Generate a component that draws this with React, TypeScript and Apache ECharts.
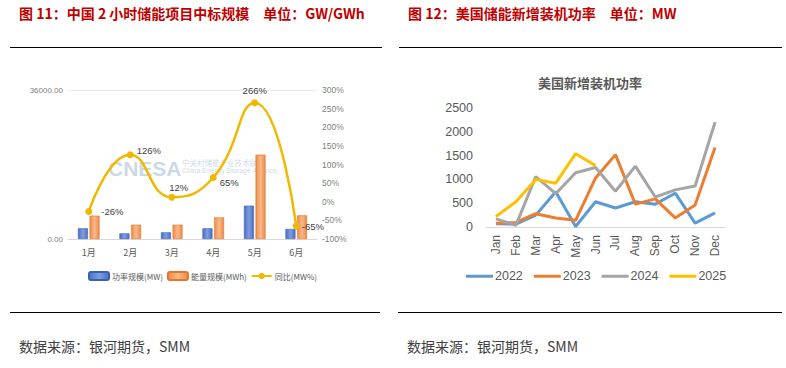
import React, { useEffect, useRef } from "react";
import * as echarts from "echarts";

// Left chart (图 11)
const months = ["1月", "2月", "3月", "4月", "5月", "6月"];
const powerMW = [2580, 1370, 1610, 2580, 8050, 2420];
const energyMWh = [5640, 3460, 3460, 5230, 20370, 5720];
const yoyPct = [-26, 126, 12, 65, 266, -65];

// Right chart (图 12)
const monthsEn = ["Jan", "Feb", "Mar", "Apr", "May", "Jun", "Jul", "Aug", "Sep", "Oct", "Nov", "Dec"];
const us2022 = [70, 60, 250, 740, 10, 530, 400, 530, 480, 710, 80, 295];
const us2023 = [80, 95, 280, 190, 140, 1030, 1520, 480, 590, 190, 460, 1670];
const us2024 = [170, 35, 1060, 700, 1140, 1250, 750, 1280, 630, 780, 860, 2200];
const us2025 = [220, 530, 1000, 920, 1540, 1290];

const CJK = '"Noto Sans CJK SC", "Noto Sans", sans-serif';
const NUM = '"Liberation Sans Narrow", "Liberation Sans", "Noto Sans CJK SC", sans-serif';

export default function App() {
  const ref = useRef<HTMLDivElement>(null);
  useEffect(() => {
    if (!ref.current) return;
    const chart = echarts.init(ref.current, null, { renderer: "svg" });

    const labelCfg: any[] = [
      { position: "right", distance: 9, offset: [0, 0] },
      { position: "right", distance: 3, offset: [0, -4] },
      { position: "top", distance: 2, offset: [7, 0] },
      { position: "right", distance: 3, offset: [0, 5] },
      { position: "top", distance: 4, offset: [0, 0] },
      { position: "right", distance: 2, offset: [0, 1] },
    ];

    const barGrad = (c1: string, c2: string) =>
      new echarts.graphic.LinearGradient(0, 0, 1, 0, [
        { offset: 0, color: c1 },
        { offset: 0.5, color: c2 },
        { offset: 1, color: c1 },
      ]);

    const option: any = {
      animation: false,
      backgroundColor: "#ffffff",
      textStyle: { fontFamily: CJK },
      grid: [
        { left: 68, right: 469, top: 90, bottom: 129 },
        { left: 486, right: 61, top: 108, bottom: 141 },
      ],
      xAxis: [
        {
          type: "category",
          gridIndex: 0,
          data: months,
          axisLine: { lineStyle: { color: "#d9d9d9" } },
          axisTick: { show: false },
          axisLabel: { color: "#595959", fontSize: 9, margin: 9, fontFamily: CJK },
        },
        {
          type: "category",
          gridIndex: 1,
          data: monthsEn,
          axisLine: { lineStyle: { color: "#d9d9d9" } },
          axisTick: { show: false },
          axisLabel: { color: "#595959", fontSize: 12, rotate: 90, margin: 8, fontFamily: NUM },
        },
      ],
      yAxis: [
        {
          type: "value",
          gridIndex: 0,
          min: 0,
          max: 36000,
          interval: 36000,
          axisLine: { show: false },
          axisTick: { show: false },
          axisLabel: {
            color: "#7f7f7f",
            fontSize: 8,
            margin: 5,
            fontFamily: NUM,
            formatter: (v: number) => v.toFixed(2),
          },
          splitLine: { lineStyle: { color: "#ececec" } },
        },
        {
          type: "value",
          gridIndex: 0,
          position: "right",
          min: -100,
          max: 300,
          interval: 50,
          axisLine: { show: false },
          axisTick: { show: false },
          axisLabel: { color: "#7f7f7f", fontSize: 8.5, margin: 5, fontFamily: NUM, formatter: "{value}%" },
          splitLine: { show: false },
        },
        {
          type: "value",
          gridIndex: 1,
          min: 0,
          max: 2500,
          interval: 500,
          axisLine: { show: false },
          axisTick: { show: false },
          axisLabel: {
            color: "#595959",
            fontSize: 12.5,
            margin: 13,
            fontFamily: NUM,
            formatter: (v: number) => String(v),
          },
          splitLine: { show: false },
        },
      ],
      legend: [
        {
          left: 88,
          top: 271,
          padding: 0,
          itemWidth: 20,
          itemHeight: 8,
          itemGap: 4,
          textStyle: { color: "#595959", fontSize: 8, fontFamily: CJK, padding: [0, 0, 0, -2] },
          data: ["功率规模(MW)", "能量规模(MWh)", "同比(MW%)"],
        },
        {
          left: 466,
          top: 270,
          padding: 0,
          itemWidth: 27,
          itemHeight: 3,
          itemGap: 11,
          icon: "rect",
          textStyle: { color: "#595959", fontSize: 12.5, fontFamily: NUM, padding: [0, 0, 0, -3] },
          data: ["2022", "2023", "2024", "2025"],
        },
      ],
      series: [
        {
          name: "功率规模(MW)",
          type: "bar",
          xAxisIndex: 0,
          yAxisIndex: 0,
          data: powerMW,
          barWidth: 10,
          barGap: "16%",
          itemStyle: { color: barGrad("#4a6fc4", "#7f9ee0"), borderColor: "#3d5fae", borderWidth: 0.6 },
        },
        {
          name: "能量规模(MWh)",
          type: "bar",
          xAxisIndex: 0,
          yAxisIndex: 0,
          data: energyMWh,
          barWidth: 10,
          barGap: "16%",
          itemStyle: { color: barGrad("#ee8a45", "#f6b98a"), borderColor: "#e0772e", borderWidth: 0.6 },
        },
        {
          name: "同比(MW%)",
          type: "line",
          xAxisIndex: 0,
          yAxisIndex: 1,
          smooth: 0.5,
          symbol: "circle",
          symbolSize: 7,
          itemStyle: { color: "#f0b800" },
          lineStyle: { color: "#f0b800", width: 2.5 },
          z: 5,
          data: yoyPct.map((v, i) => ({
            value: v,
            label: {
              show: true,
              position: labelCfg[i].position,
              distance: labelCfg[i].distance,
              offset: labelCfg[i].offset,
              formatter: "{c}%",
              color: "#404040",
              fontSize: 9.5,
              fontFamily: NUM,
            },
          })),
        },
        {
          name: "2022",
          type: "line",
          xAxisIndex: 1,
          yAxisIndex: 2,
          data: us2022,
          symbol: "none",
          itemStyle: { color: "#5b9bd5" },
          lineStyle: { color: "#5b9bd5", width: 3 },
        },
        {
          name: "2023",
          type: "line",
          xAxisIndex: 1,
          yAxisIndex: 2,
          data: us2023,
          symbol: "none",
          itemStyle: { color: "#ed7d31" },
          lineStyle: { color: "#ed7d31", width: 3 },
        },
        {
          name: "2024",
          type: "line",
          xAxisIndex: 1,
          yAxisIndex: 2,
          data: us2024,
          symbol: "none",
          itemStyle: { color: "#a5a5a5" },
          lineStyle: { color: "#a5a5a5", width: 3 },
        },
        {
          name: "2025",
          type: "line",
          xAxisIndex: 1,
          yAxisIndex: 2,
          data: us2025,
          symbol: "none",
          itemStyle: { color: "#ffc000" },
          lineStyle: { color: "#ffc000", width: 3 },
        },
      ],
      graphic: [
        {
          type: "text",
          left: 19,
          top: 6,
          style: {
            text: "图 11：中国 2 小时储能项目中标规模\u3000单位：GW/GWh",
            fill: "#c00000",
            font: `bold 14px ${CJK}`,
          },
        },
        {
          type: "text",
          left: 408,
          top: 6,
          style: {
            text: "图 12：美国储能新增装机功率\u3000单位：MW",
            fill: "#c00000",
            font: `bold 14px ${CJK}`,
          },
        },
        { type: "line", shape: { x1: 10, y1: 47.5, x2: 382, y2: 47.5 }, style: { stroke: "#000", lineWidth: 1 } },
        { type: "line", shape: { x1: 399, y1: 47.5, x2: 782, y2: 47.5 }, style: { stroke: "#000", lineWidth: 1 } },
        { type: "line", shape: { x1: 10, y1: 312.5, x2: 380, y2: 312.5 }, style: { stroke: "#000", lineWidth: 1 } },
        { type: "line", shape: { x1: 398, y1: 312.5, x2: 782, y2: 312.5 }, style: { stroke: "#000", lineWidth: 1 } },
        {
          type: "text",
          left: 19,
          top: 339,
          style: { text: "数据来源：银河期货，SMM", fill: "#404040", font: `14px ${CJK}` },
        },
        {
          type: "text",
          left: 407,
          top: 339,
          style: { text: "数据来源：银河期货，SMM", fill: "#404040", font: `14px ${CJK}` },
        },
        {
          type: "text",
          x: 590,
          y: 82,
          style: {
            text: "美国新增装机功率",
            fill: "#595959",
            font: `bold 13px ${CJK}`,
            align: "center",
            verticalAlign: "middle",
          },
        },
        {
          type: "text",
          left: 108,
          top: 158,
          z: -1,
          style: { text: "CNESA", fill: "rgba(150,180,205,0.5)", font: `bold 21px ${NUM}`, lineHeight: 21 },
        },
        {
          type: "text",
          left: 182,
          top: 158,
          z: -1,
          style: { text: "中关村储能产业技术联盟", fill: "rgba(150,180,205,0.5)", font: `7.5px ${CJK}`, lineHeight: 8 },
        },
        {
          type: "text",
          left: 182,
          top: 167,
          z: -1,
          style: { text: "China Energy Storage Alliance", fill: "rgba(150,180,205,0.5)", font: `7px ${NUM}`, lineHeight: 7 },
        },
      ],
    };

    chart.setOption(option);
    return () => chart.dispose();
  }, []);

  return (
    <div
      ref={ref}
      style={{ position: "absolute", left: 0, top: 0, width: 786, height: 368 }}
    />
  );
}
